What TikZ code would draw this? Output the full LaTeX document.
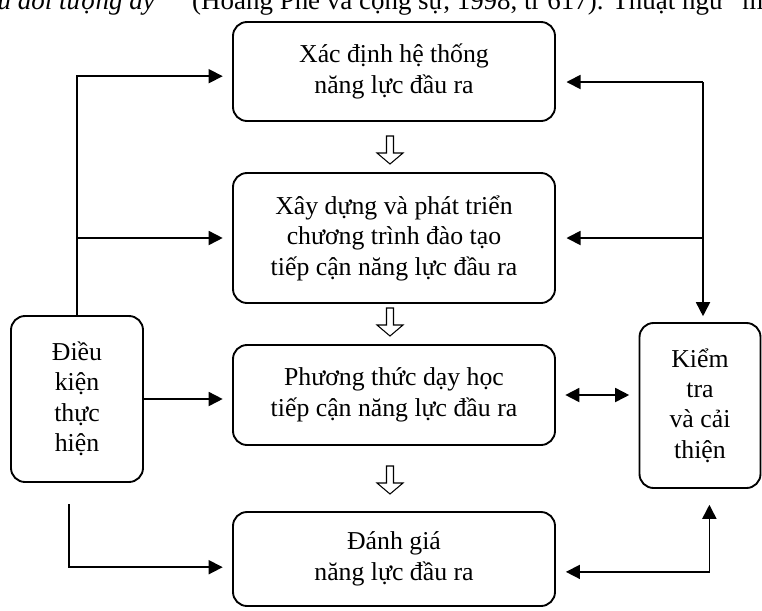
\documentclass[tikz,border=0pt]{standalone}
\usepackage{fontspec}
\setmainfont{Liberation Serif}
\usetikzlibrary{arrows.meta}

\begin{document}
\begin{tikzpicture}[x=0.03cm,y=-0.03cm,
		box/.style={draw,line width=1.6pt,rounded corners=12pt,align=center,
			font=\fontsize{22}{26}\selectfont,inner sep=0pt},
		arr/.style={line width=1.4pt,-{Triangle[length=12pt,width=12pt]}},
		arrr/.style={line width=1.4pt,{Triangle[length=12pt,width=12pt]}-{Triangle[length=12pt,width=12pt]}}]
			\useasboundingbox (0,0) rectangle (762,610);
			% cut off line of the page above
			\node[anchor=base east,font=\fontsize{23}{26}\selectfont\itshape,inner sep=0pt] (toptxta) at (170,9) {ấu đối tượng ấy”};
			\node[anchor=base west,font=\fontsize{23}{26}\selectfont,inner sep=0pt] (toptxtb) at (192,9) {(Hoàng Phê và cộng sự, 1998, tr 617). Thuật ngữ “m};
			% boxes
			\node[box,minimum width=322*0.03cm,minimum height=99*0.03cm] (b1) at (394,71.5) {Xác định hệ thống\\năng lực đầu ra};
			\node[box,minimum width=322*0.03cm,minimum height=130*0.03cm] (b2) at (394,238) {Xây dựng và phát triển\\chương trình đào tạo\\tiếp cận năng lực đầu ra};
			\node[box,minimum width=322*0.03cm,minimum height=100*0.03cm] (b3) at (394,395) {Phương thức dạy học\\tiếp cận năng lực đầu ra};
			\node[box,minimum width=322*0.03cm,minimum height=94*0.03cm] (b4) at (394,559) {Đánh giá\\năng lực đầu ra};
			\node[box,minimum width=132*0.03cm,minimum height=166*0.03cm] (cond) at (77,399) {Điều\\kiện\\thực\\hiện};
			\node[box,minimum width=121*0.03cm,minimum height=165*0.03cm] (check) at (700,405.5) {Kiểm\\tra\\và cải\\thiện};
			% hollow arrows
			\foreach \y in {136,308,466}
				\draw[line width=0.9pt,line join=miter] (386.5,\y) -- (393.5,\y) -- (393.5,\y+17) -- (403,\y+17) -- (390,\y+28) -- (377,\y+17) -- (386.5,\y+17) -- cycle;
			% left side
			\draw[arr,shorten >=8pt] (cond.north) |- ([yshift=-4pt]b1.west);
			\draw[arr,shorten >=8pt] (cond.north) |- (b2.west);
			\draw[arr,shorten >=8pt] (cond.east) -- (cond.east -| b3.west);
			\coordinate (lb) at (69,504);
			\draw[arr,shorten >=8pt] (lb) |- ([yshift=-7pt]b4.west);
			% right side
			\coordinate (rj) at (703,82);
			\draw[arr,shorten >=9pt] (rj) -- (rj -| b1.east);
			\draw[arr,shorten >=5pt] (rj) -- (rj |- check.north);
			\draw[arr,shorten >=9pt] (rj |- b2.east) -- (b2.east);
			\draw[arrr,shorten >=8pt,shorten <=8pt] (b3.east) -- (b3.east -| check.west);
			\draw[arrr,shorten <=8.5pt,shorten >=13.5pt] ([yshift=-11pt]b4.east) -| ([xshift=8pt]check.south);
		\end{tikzpicture}
\end{document}
